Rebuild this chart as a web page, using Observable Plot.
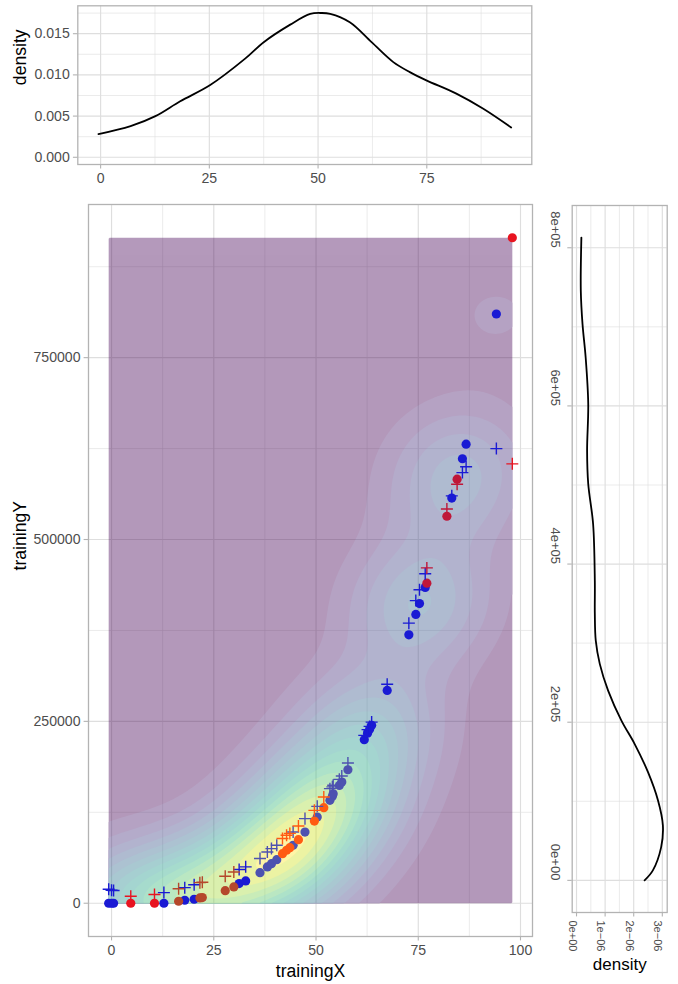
<!DOCTYPE html>
<html><head><meta charset="utf-8">
<script src="https://cdn.jsdelivr.net/npm/d3@7"></script>
<script src="https://cdn.jsdelivr.net/npm/@observablehq/plot@0.6"></script>
<style>
body{margin:0;background:#fff;}
#chart{position:relative;width:678px;height:984px;overflow:hidden;}
#chart svg{position:absolute;}
</style></head><body><div id="chart"></div>
<script>
// ---------- data ----------
const trainingX = [-0.7,0.0,0.5,4.7,10.5,12.8,16.4,17.9,20.2,21.6,22.2,27.8,29.9,31.2,32.8,36.3,38.1,39.1,40.4,41.8,42.8,43.6,44.4,45.7,47.3,49.6,50.3,51.9,53.4,54.0,54.2,55.7,56.3,57.8,61.8,62.6,63.1,63.6,67.4,72.7,74.4,75.3,76.7,77.1,82.0,83.2,84.5,85.8,86.7,94.1,98.0];
const trainingY = [0,0,0,0,0,0,2700,4100,5500,7300,7800,17300,22400,27000,30600,42000,49900,54400,59900,68100,72800,76400,79700,87400,97800,112900,118400,131300,141500,147000,150500,162000,166500,183500,224800,233800,239000,244500,292500,369000,397000,412000,434000,440000,532000,557000,583000,611000,631000,810000,914800];
const predictedY = [19200,17800,17500,9600,11900,14600,20000,21400,25500,28300,28800,37100,43000,46300,50000,61400,70500,75100,79700,88900,93400,96000,97900,106200,116300,127700,133200,146000,157500,160000,162100,170300,174900,192700,230800,238600,243100,249000,301000,385000,416000,431000,453000,461000,542000,560000,576000,592000,600000,625000,604000];
const pointGroup = ["B","B","B","R","R","B","K","B","B","K","K","K","K","B","B","S","S","S","S","O","O","O","S","O","S","O","S","O","S","S","S","S","S","S","B","B","B","B","B","B","B","B","B","C","C","B","C","B","B","B","R"];
const groupColors = {B:"#1a1ad4", S:"#4d52b0", O:"#ff5b12", K:"#b5472b", R:"#e81420", C:"#bf1738"};

// marginal density of trainingX (top panel)
const topDensityX = [-0.5,6.9,12.6,18.3,25.2,33.3,37.5,43.6,48.2,50.8,52.8,57.3,62.3,67.3,71.1,74.9,81.8,87.9,94.4];
const topDensityValue = [0.00281,0.00378,0.00499,0.0068,0.00877,0.0120,0.01397,0.0161,0.0174,0.01751,0.01740,0.01638,0.01397,0.01155,0.01034,0.00934,0.00773,0.00592,0.00362];
// marginal density of trainingY (right panel)
const rightDensityY = [0,12600,42000,69500,101000,136800,172700,202100,240000,273800,303200,337000,379000,450700,501200,543300,602300,661200,703400,745400,812800];
const rightDensityValue = [2.38e-6,2.67e-6,2.96e-6,3.02e-6,2.85e-6,2.50e-6,2.03e-6,1.57e-6,1.105e-6,0.813e-6,0.673e-6,0.64e-6,0.64e-6,0.58e-6,0.41e-6,0.37e-6,0.41e-6,0.32e-6,0.21e-6,0.15e-6,0.17e-6];

// 2D density settings (bandwidth adjust per axis, number of filled bands)
const densityAdjust = [1, 0.7];
const densityBands = 16;

// ticks
const topXTicks = [0,25,50,75], topXLabels = ["0","25","50","75"], topXMinor = [12.5,37.5,62.5,87.5];
const topYTicks = [0,0.005,0.010,0.015], topYLabels = ["0.000","0.005","0.010","0.015"], topYMinor = [0.0025,0.0075,0.0125,0.0175];
const mainXTicks = [0,25,50,75,100], mainXLabels = ["0","25","50","75","100"], mainXMinor = [12.5,37.5,62.5,87.5];
const mainYTicks = [0,250000,500000,750000], mainYLabels = ["0","250000","500000","750000"], mainYMinor = [125000,375000,625000,875000];
const rightYTicks = [0,200000,400000,600000,800000], rightYLabels = ["0e+00","2e+05","4e+05","6e+05","8e+05"], rightYMinor = [100000,300000,500000,700000];
const rightXTicks = [0,1e-6,2e-6,3e-6], rightXLabels = ["0e+00","1e\u221206","2e\u221206","3e\u221206"], rightXMinor = [0.5e-6,1.5e-6,2.5e-6];

// ---------- helpers ----------
const FONT = '"Liberation Sans", Arial, Helvetica, sans-serif';
const GRID = "#dedede", BORDER = "#b3b3b3", TXT = "#4d4d4d";
const expand = ([a, b]) => [a - (b - a) * 0.05, b + (b - a) * 0.05];
const lab = (ticks, labels) => d => labels[ticks.indexOf(d)];
const style = {fontFamily: FONT, fontSize: "14.1px", background: "transparent", color: "black"};
const axisOpts = {tickSize: 4.4, tickPadding: 3.6, stroke: BORDER, strokeWidth: 1.1, fill: TXT, fontSize: 14.1, label: null};
const grids = (xMajor, xMinor, yMajor, yMinor) => [
  Plot.ruleX(xMinor, {stroke: GRID, strokeWidth: 0.6}),
  Plot.ruleY(yMinor, {stroke: GRID, strokeWidth: 0.6}),
  Plot.ruleX(xMajor, {stroke: GRID, strokeWidth: 1.15}),
  Plot.ruleY(yMajor, {stroke: GRID, strokeWidth: 1.15})
];

const points = trainingX.map((x, i) => ({x, y: trainingY[i], p: predictedY[i], g: pointGroup[i]}));
const topDensity = topDensityX.map((x, i) => ({x, d: topDensityValue[i]}));
const rightDensity = rightDensityY.map((v, i) => ({v, d: rightDensityValue[i]}));

// ---------- 2D kernel density (as MASS::kde2d with bandwidth.nrd) ----------
const sample = points.slice(0, -1); // the last (held-out) observation is not in the density sample
function bandwidthNrd(v) {
  const q1 = d3.quantile(v, 0.25), q3 = d3.quantile(v, 0.75);
  return 4 * 1.06 * Math.min(d3.deviation(v), (q3 - q1) / 1.34) * Math.pow(v.length, -0.2);
}
const hx = bandwidthNrd(sample.map(d => d.x)) * densityAdjust[0] / 4;
const hy = bandwidthNrd(sample.map(d => d.y)) * densityAdjust[1] / 4;
const dn = z => Math.exp(-0.5 * z * z) / Math.sqrt(2 * Math.PI);
const kde = (x, y) => {
  let s = 0;
  for (const p of sample) s += dn((x - p.x) / hx) * dn((y - p.y) / hy);
  return s / (sample.length * hx * hy);
};
const [xLo, xHi] = d3.extent(points, d => d.x);
const yLo = d3.min(points, d => Math.min(d.y, d.p)), yHi = d3.max(points, d => Math.max(d.y, d.p));
let zmax = -Infinity;
for (let i = 0; i < 100; i++) for (let j = 0; j < 100; j++) {
  zmax = Math.max(zmax, kde(xLo + i * (xHi - xLo) / 99, yLo + j * (yHi - yLo) / 99));
}
const bandWidth = zmax / (densityBands - 0.5);
const thresholds = d3.range(densityBands).map(i => i * bandWidth);

// ---------- top marginal ----------
const topPlot = Plot.plot({
  width: 540, height: 195, marginTop: 5.3, marginBottom: 31, marginLeft: 77.3, marginRight: 8.7,
  x: {domain: expand(d3.extent(topDensityX))},
  y: {domain: expand([0, d3.max(topDensityValue)])},
  style,
  marks: [
    ...grids(topXTicks, topXMinor, topYTicks, topYMinor),
    Plot.line(topDensity, {x: "x", y: "d", curve: "catmull-rom", stroke: "black", strokeWidth: 1.8}),
    Plot.frame({stroke: BORDER, strokeWidth: 1.3}),
    Plot.axisX({...axisOpts, ticks: topXTicks, tickFormat: lab(topXTicks, topXLabels)}),
    Plot.axisY({...axisOpts, ticks: topYTicks, tickFormat: lab(topYTicks, topYLabels)}),
    Plot.text(["density"], {frameAnchor: "left", dx: -57.5, rotate: -90, fontSize: 17.6, fill: "black"})
  ]
});
topPlot.style.left = "0px"; topPlot.style.top = "0px";

// ---------- main scatter ----------
const groups = Object.keys(groupColors);
const mainPlot = Plot.plot({
  width: 540, height: 789, marginTop: 9, marginBottom: 48, marginLeft: 88, marginRight: 8,
  x: {domain: expand([xLo, xHi])},
  y: {domain: expand([yLo, yHi])},
  color: {type: "linear", scheme: "viridis", domain: [thresholds[0], thresholds[thresholds.length - 1]]},
  style,
  marks: [
    ...grids(mainXTicks, mainXMinor, mainYTicks, mainYMinor),
    Plot.contour({x1: xLo, x2: xHi, y1: yLo, y2: yHi, fill: kde, thresholds, pixelSize: 2, stroke: "none"}),
    ...groups.map(g => Plot.dot(points, {filter: d => d.g === g, x: "x", y: "y", r: 4.6, fill: groupColors[g], stroke: "none"})),
    ...groups.map(g => Plot.dot(points, {filter: d => d.g === g, x: "x", y: "p", r: 3.95, symbol: "plus", stroke: groupColors[g], strokeWidth: 1.4})),
    Plot.frame({stroke: BORDER, strokeWidth: 1.3}),
    Plot.axisX({...axisOpts, ticks: mainXTicks, tickFormat: lab(mainXTicks, mainXLabels)}),
    Plot.axisY({...axisOpts, ticks: mainYTicks, tickFormat: lab(mainYTicks, mainYLabels)}),
    Plot.text(["trainingX"], {frameAnchor: "bottom", dy: 40, lineAnchor: "bottom", fontSize: 17.6, fill: "black"}),
    Plot.text(["trainingY"], {frameAnchor: "left", dx: -68.2, rotate: -90, fontSize: 17.6, fill: "black"})
  ]
});
mainPlot.style.left = "0px"; mainPlot.style.top = "195px";
mainPlot.querySelectorAll('g[aria-label="contour"]').forEach(g => g.setAttribute("opacity", "0.4"));

// ---------- right marginal ----------
const rightPlot = Plot.plot({
  width: 138, height: 789, marginTop: 10, marginBottom: 72, marginLeft: 31.7, marginRight: 11.3,
  x: {domain: expand([0, d3.max(rightDensityValue)])},
  y: {domain: expand(d3.extent(rightDensityY))},
  style,
  marks: [
    ...grids(rightXTicks, rightXMinor, rightYTicks, rightYMinor),
    Plot.line(rightDensity, {x: "d", y: "v", curve: "catmull-rom", stroke: "black", strokeWidth: 1.8}),
    Plot.frame({stroke: BORDER, strokeWidth: 1.3}),
    Plot.axisX({...axisOpts, ticks: rightXTicks, tickFormat: () => ""}),
    Plot.axisY({...axisOpts, ticks: rightYTicks, tickFormat: () => ""}),
    Plot.text(rightXTicks, {x: d => d, text: lab(rightXTicks, rightXLabels), frameAnchor: "bottom", dy: 8, rotate: 90, textAnchor: "start", lineAnchor: "top", fill: TXT, fontSize: 11}),
    Plot.text(rightYTicks, {y: d => d, text: lab(rightYTicks, rightYLabels), frameAnchor: "left", dx: -20.7, rotate: 90, textAnchor: "end", lineAnchor: "bottom", fill: TXT, fontSize: 13}),
    Plot.text(["density"], {frameAnchor: "bottom", dy: 57.5, lineAnchor: "bottom", fontSize: 17, fill: "black"})
  ]
});
rightPlot.style.left = "540px"; rightPlot.style.top = "195px";

const chart = document.getElementById("chart");
chart.append(topPlot, mainPlot, rightPlot);
</script>
</body></html>
